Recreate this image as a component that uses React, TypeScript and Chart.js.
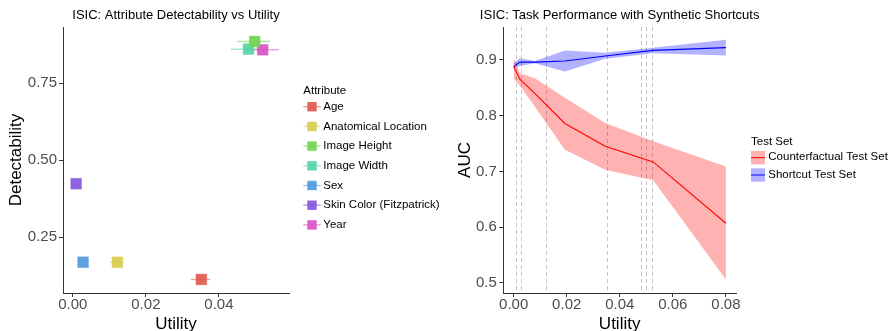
import React, { useEffect, useRef } from 'react';
import { Chart, registerables } from 'chart.js';

Chart.register(...registerables);

const FONT = "'Liberation Sans', Arial, Helvetica, sans-serif";

// ---------- Left panel data ----------
const leftTitle = 'ISIC: Attribute Detectability vs Utility';
const attributes = ['Age', 'Anatomical Location', 'Image Height', 'Image Width', 'Sex', 'Skin Color (Fitzpatrick)', 'Year'];
const attrUtility = [0.0352, 0.0122, 0.0498, 0.0481, 0.0028, 0.0009, 0.052];
const attrUtilityLow = [0.0323, 0.0102, 0.0451, 0.0433, 0.0026, 0.0007, 0.0471];
const attrUtilityHigh = [0.0376, 0.014, 0.054, 0.0526, 0.003, 0.0011, 0.0564];
const attrDetect = [0.113, 0.169, 0.886, 0.861, 0.169, 0.424, 0.859];
const attrColors = ['#DE5B4F', '#D8CD4F', '#6CD551', '#55D6A6', '#5299DC', '#8655DC', '#D855C6'];
const leftXTicks = [0, 0.02, 0.04];
const leftYTicks = [0.25, 0.5, 0.75];

// ---------- Right panel data ----------
const rightTitle = 'ISIC: Task Performance with Synthetic Shortcuts';
const synthUtility = [0, 0.0024, 0.008, 0.0193, 0.0345, 0.0526, 0.08];
const cfMean = [0.888, 0.865, 0.84, 0.786, 0.745, 0.717, 0.607];
const cfLow = [0.867, 0.853, 0.816, 0.739, 0.703, 0.684, 0.506];
const cfHigh = [0.903, 0.876, 0.867, 0.832, 0.787, 0.754, 0.709];
const scMean = [0.888, 0.896, 0.896, 0.898, 0.907, 0.917, 0.922];
const scLow = [0.885, 0.889, 0.894, 0.879, 0.902, 0.912, 0.908];
const scHigh = [0.894, 0.903, 0.898, 0.917, 0.913, 0.922, 0.936];
const seriesNames = ['Counterfactual Test Set', 'Shortcut Test Set'];
const seriesColors = ['#FF0000', '#0000FF'];
const ribbonColors = ['rgba(255,0,0,0.3)', 'rgba(0,0,255,0.3)'];
const rightXTicks = [0, 0.02, 0.04, 0.06, 0.08];
const rightYTicks = [0.5, 0.6, 0.7, 0.8, 0.9];

function hexToRgba(hex: string, a: number) {
  const n = parseInt(hex.slice(1), 16);
  return `rgba(${(n >> 16) & 255},${(n >> 8) & 255},${n & 255},${a})`;
}

function pts(xs: number[], ys: number[]) {
  return xs.map((x, i) => ({ x, y: ys[i] }));
}

function axis(opts: {
  min: number; max: number; ticks: number[]; decimals: number; title: string;
  size: number; vertical: boolean; titlePad: any; tickPad: number;
}) {
  return {
    type: 'linear',
    min: opts.min,
    max: opts.max,
    afterBuildTicks: (scale: any) => {
      scale.ticks = opts.ticks.map((v) => ({ value: v }));
    },
    afterFit: (scale: any) => {
      if (opts.vertical) scale.width = opts.size;
      else scale.height = opts.size;
    },
    grid: {
      display: true,
      drawOnChartArea: false,
      drawTicks: true,
      tickLength: 4,
      color: '#333333',
      lineWidth: 1,
    },
    border: { display: true, color: '#333333', width: 1 },
    ticks: {
      autoSkip: false,
      maxRotation: 0,
      padding: opts.tickPad,
      color: '#4D4D4D',
      font: { family: FONT, size: 15, lineHeight: 1 },
      callback: (v: any) => Number(v).toFixed(opts.decimals),
    },
    title: {
      display: true,
      text: opts.title,
      color: '#000000',
      font: { family: FONT, size: 17, lineHeight: 1 },
      padding: opts.titlePad,
    },
  };
}

const leftPlugin = {
  id: 'leftDecor',
  beforeDatasetsDraw(chart: any) {
    const { ctx, scales } = chart;
    const x = scales.x, y = scales.y;
    ctx.save();
    ctx.lineWidth = 1.5;
    attributes.forEach((_, i) => {
      const py = y.getPixelForValue(attrDetect[i]);
      ctx.strokeStyle = hexToRgba(attrColors[i], 0.55);
      ctx.beginPath();
      ctx.moveTo(x.getPixelForValue(attrUtilityLow[i]), py);
      ctx.lineTo(x.getPixelForValue(attrUtilityHigh[i]), py);
      ctx.stroke();
    });
    ctx.restore();
  },
  afterDraw(chart: any) {
    const { ctx, chartArea: ca } = chart;
    ctx.save();
    ctx.fillStyle = '#000000';
    ctx.font = `13px ${FONT}`;
    ctx.textAlign = 'center';
    ctx.textBaseline = 'middle';
    ctx.fillText(leftTitle, (ca.left + ca.right) / 2, 15);

    const lx = ca.right + 14.3;
    ctx.textAlign = 'left';
    ctx.font = `11.5px ${FONT}`;
    ctx.fillText('Attribute', lx, 91);
    attributes.forEach((name, i) => {
      const cy = 106.7 + i * 19.7;
      ctx.strokeStyle = hexToRgba(attrColors[i], 0.55);
      ctx.lineWidth = 1.5;
      ctx.beginPath();
      ctx.moveTo(lx, cy);
      ctx.lineTo(lx + 17.4, cy);
      ctx.stroke();
      ctx.fillStyle = hexToRgba(attrColors[i], 0.92);
      ctx.fillRect(lx + 4, cy - 4.7, 9.4, 9.4);
      ctx.fillStyle = '#000000';
      ctx.fillText(name, lx + 20, cy);
    });
    ctx.restore();
  },
};

const rightPlugin = {
  id: 'rightDecor',
  beforeDatasetsDraw(chart: any) {
    const { ctx, chartArea: ca, scales } = chart;
    ctx.save();
    ctx.strokeStyle = '#C4C4C4';
    ctx.lineWidth = 1;
    ctx.setLineDash([4, 3]);
    attrUtility.forEach((u) => {
      const px = Math.round(scales.x.getPixelForValue(u)) + 0.5;
      ctx.beginPath();
      ctx.moveTo(px, ca.top);
      ctx.lineTo(px, ca.bottom);
      ctx.stroke();
    });
    ctx.restore();
  },
  afterDraw(chart: any) {
    const { ctx, chartArea: ca } = chart;
    ctx.save();
    ctx.fillStyle = '#000000';
    ctx.font = `13px ${FONT}`;
    ctx.textAlign = 'center';
    ctx.textBaseline = 'middle';
    ctx.fillText(rightTitle, (ca.left + ca.right) / 2, 15);

    const lx = ca.right + 15;
    ctx.textAlign = 'left';
    ctx.font = `11.5px ${FONT}`;
    ctx.fillText('Test Set', lx, 142.3);
    seriesNames.forEach((name, i) => {
      const cy = 157.7 + i * 17.3;
      ctx.fillStyle = ribbonColors[i];
      ctx.fillRect(lx, cy - 6.7, 14, 13.4);
      ctx.strokeStyle = seriesColors[i];
      ctx.lineWidth = 1;
      ctx.beginPath();
      ctx.moveTo(lx, cy);
      ctx.lineTo(lx + 14, cy);
      ctx.stroke();
      ctx.fillStyle = '#000000';
      ctx.fillText(name, lx + 17.3, cy - 0.6);
    });
    ctx.restore();
  },
};

function LeftChart() {
  const ref = useRef<HTMLCanvasElement>(null);
  useEffect(() => {
    if (!ref.current) return;
    const chart = new Chart(ref.current, {
      type: 'scatter',
      data: {
        datasets: attributes.map((name, i) => ({
          label: name,
          data: [{ x: attrUtility[i], y: attrDetect[i] }],
          pointStyle: 'rect',
          pointRadius: 7.6,
          pointHoverRadius: 7.6,
          backgroundColor: hexToRgba(attrColors[i], 0.92),
          borderColor: hexToRgba(attrColors[i], 0.4),
          borderWidth: 1,
        })),
      },
      options: {
        animation: false,
        responsive: false,
        layout: { padding: { left: 0, top: 27, right: 156, bottom: 0 } },
        plugins: { legend: { display: false }, tooltip: { enabled: false }, title: { display: false } },
        scales: {
          x: axis({ min: -0.0027, max: 0.0592, ticks: leftXTicks, decimals: 2, title: 'Utility', size: 38, vertical: false, titlePad: { top: 0, bottom: -2 }, tickPad: 0 }),
          y: axis({ min: 0.069, max: 0.933, ticks: leftYTicks, decimals: 2, title: 'Detectability', size: 63, vertical: true, titlePad: { top: 7.8, bottom: 0 }, tickPad: 2 }),
        },
      } as any,
      plugins: [leftPlugin],
    });
    return () => chart.destroy();
  }, []);
  return <canvas ref={ref} width={445} height={331} style={{ display: 'block', width: 445, height: 331 }} />;
}

function RightChart() {
  const ref = useRef<HTMLCanvasElement>(null);
  useEffect(() => {
    if (!ref.current) return;
    const bound = (ys: number[], fill: any, bg: string) => ({
      label: '',
      data: pts(synthUtility, ys),
      borderWidth: 0,
      borderColor: 'transparent',
      pointRadius: 0,
      fill,
      backgroundColor: bg,
      tension: 0,
    });
    const chart = new Chart(ref.current, {
      type: 'line',
      data: {
        datasets: [
          bound(cfLow, false, 'transparent'),
          bound(cfHigh, '-1', ribbonColors[0]),
          bound(scLow, false, 'transparent'),
          bound(scHigh, '-1', ribbonColors[1]),
          {
            label: seriesNames[0],
            data: pts(synthUtility, cfMean),
            borderColor: seriesColors[0],
            borderWidth: 1.1,
            pointRadius: 0,
            fill: false,
            tension: 0,
          },
          {
            label: seriesNames[1],
            data: pts(synthUtility, scMean),
            borderColor: seriesColors[1],
            borderWidth: 1.1,
            pointRadius: 0,
            fill: false,
            tension: 0,
          },
        ],
      },
      options: {
        animation: false,
        responsive: false,
        layout: { padding: { left: 0, top: 27, right: 155, bottom: 0 } },
        plugins: { legend: { display: false }, tooltip: { enabled: false }, title: { display: false } },
        scales: {
          x: axis({ min: -0.0039, max: 0.0838, ticks: rightXTicks, decimals: 2, title: 'Utility', size: 38, vertical: false, titlePad: { top: 0, bottom: -2 }, tickPad: 0 }),
          y: axis({ min: 0.482, max: 0.959, ticks: rightYTicks, decimals: 1, title: 'AUC', size: 58.3, vertical: true, titlePad: { top: 12.3, bottom: 0 }, tickPad: 2.5 }),
        },
      } as any,
      plugins: [rightPlugin],
    });
    return () => chart.destroy();
  }, []);
  return <canvas ref={ref} width={446} height={331} style={{ display: 'block', width: 446, height: 331 }} />;
}

export default function App() {
  return (
    <div style={{ position: 'absolute', left: 0, top: 0, width: 891, height: 331, display: 'flex', background: '#ffffff', overflow: 'hidden' }}>
      <LeftChart />
      <RightChart />
    </div>
  );
}
